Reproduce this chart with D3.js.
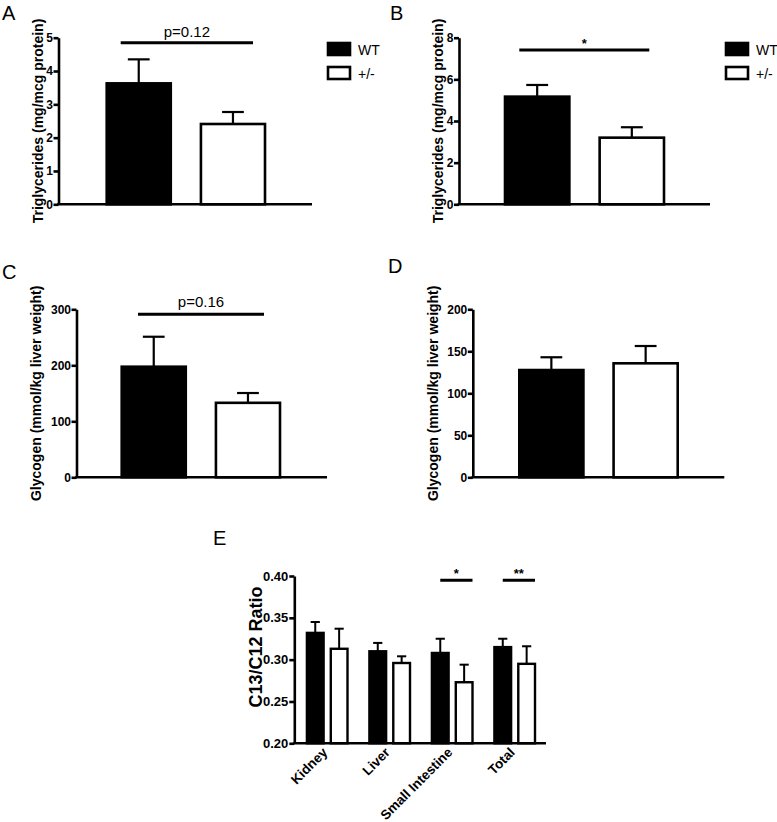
<!DOCTYPE html>
<html>
<head>
<meta charset="utf-8">
<script src="https://cdn.jsdelivr.net/npm/d3@7"></script>
<style>
  body { margin: 0; background: #fff; }
  svg { display: block; font-family: Arial, "Liberation Sans", Helvetica, sans-serif; }
  .tick text { font-weight: bold; }
</style>
</head>
<body>
<svg id="chart" width="777" height="822"></svg>
<script>
// genotypes
const groups = ["WT", "+/-"];

// A, B: triglycerides (mean, SEM)
const trigA = [3.63, 2.41];
const trigAErr = [0.72, 0.36];
const trigB = [5.17, 3.20];
const trigBErr = [0.56, 0.50];

// C, D: glycogen
const glyC = [197.5, 133];
const glyCErr = [53.5, 17.5];
const glyD = [127.7, 135.7];
const glyDErr = [15.2, 20.6];

// E: C13/C12 ratio per tissue
const tissues = ["Kidney", "Liver", "Small Intestine", "Total"];
const wtE = [0.332, 0.310, 0.308, 0.315];
const wtEErr = [0.013, 0.010, 0.017, 0.010];
const hetE = [0.313, 0.296, 0.273, 0.295];
const hetEErr = [0.024, 0.008, 0.021, 0.021];

const fills = {"WT": "#000", "+/-": "#fff"};

const svg = d3.select("#chart");

function letter(t, x, y) {
    svg.append("text").attr("x", x).attr("y", y)
        .style("font-size", "20px").text(t);
}

// one two-bar panel (A-D)
function drawPanel(p) {
    const g = svg.append("g");
    const y = d3.scaleLinear().domain(p.domain).range([p.yBot, p.yTop]);
    const x = d3.scaleBand().domain(groups)
        .range([p.bx0, p.bx1]).paddingInner(0.32);

    const rows = groups.map((k, i) => ({k: k, v: p.values[i], e: p.errors[i]}));

    // error bars first (upper only)
    const cap = x.bandwidth() * 0.34;
    rows.forEach(function(d) {
        const cx = x(d.k) + x.bandwidth() / 2;
        g.append("line").attr("x1", cx).attr("x2", cx)
            .attr("y1", y(d.v)).attr("y2", y(d.v + d.e))
            .attr("stroke", "#000").attr("stroke-width", 2.2);
        g.append("line").attr("x1", cx - cap / 2).attr("x2", cx + cap / 2)
            .attr("y1", y(d.v + d.e)).attr("y2", y(d.v + d.e))
            .attr("stroke", "#000").attr("stroke-width", 2.2);
    });

    g.selectAll("rect.bar").data(rows).enter().append("rect")
        .attr("class", "bar")
        .attr("x", d => x(d.k))
        .attr("y", d => y(d.v))
        .attr("width", x.bandwidth())
        .attr("height", d => y(0) - y(d.v))
        .attr("fill", d => fills[d.k])
        .attr("stroke", "#000").attr("stroke-width", 2.6);

    const yAxis = d3.axisLeft(y).tickValues(p.ticks).tickFormat(d3.format("d"))
        .tickSize(5).tickPadding(0.5).tickSizeOuter(0);
    const ga = g.append("g").attr("transform", "translate(" + p.x0 + ",0)").call(yAxis);
    ga.selectAll("path, line").attr("stroke-width", 2.6);
    ga.selectAll("text").style("font-size", "12px");

    g.append("line").attr("x1", p.x0 - 1.3).attr("x2", p.x1)
        .attr("y1", p.yBot).attr("y2", p.yBot)
        .attr("stroke", "#000").attr("stroke-width", 2.6);

    g.append("text")
        .attr("transform", "translate(" + p.labelX + "," + ((p.yTop + p.yBot) / 2) + ") rotate(-90)")
        .attr("text-anchor", "middle")
        .style("font-size", "14px").style("font-weight", "bold")
        .text(p.label);

    if (p.sig) {
        g.append("line").attr("x1", p.sig.x1).attr("x2", p.sig.x2)
            .attr("y1", p.sig.y).attr("y2", p.sig.y)
            .attr("stroke", "#000").attr("stroke-width", 3);
        g.append("text").attr("x", (p.sig.x1 + p.sig.x2) / 2).attr("y", p.sig.ty)
            .attr("text-anchor", "middle")
            .style("font-size", p.sig.size).style("font-weight", p.sig.bold ? "bold" : "normal")
            .text(p.sig.text);
    }

    if (p.legendX) {
        groups.forEach(function(k, i) {
            g.append("rect").attr("x", p.legendX).attr("y", 43 + i * 24)
                .attr("width", 22).attr("height", 12)
                .attr("fill", fills[k]).attr("stroke", "#000").attr("stroke-width", 2.6);
            g.append("text").attr("x", p.legendX + 30).attr("y", 55 + i * 24)
                .style("font-size", "14px").text(k);
        });
    }
}

letter("A", 2, 20);
drawPanel({
    values: trigA, errors: trigAErr, domain: [0, 5], ticks: [0, 1, 2, 3, 4, 5],
    x0: 58.5, x1: 312, bx0: 106.7, bx1: 265, yTop: 37.7, yBot: 204.3, labelX: 43,
    label: "Triglycerides (mg/mcg protein)",
    sig: {x1: 120.7, x2: 253, y: 42.7, ty: 37, text: "p=0.12", size: "15px"},
    legendX: 328
});

letter("B", 390, 20);
drawPanel({
    values: trigB, errors: trigBErr, domain: [0, 8], ticks: [0, 2, 4, 6, 8],
    x0: 459, x1: 710, bx0: 505, bx1: 664, yTop: 37.7, yBot: 204.3, labelX: 443,
    label: "Triglycerides (mg/mcg protein)",
    sig: {x1: 519.3, x2: 649.3, y: 50, ty: 48, text: "*", size: "13px", bold: true},
    legendX: 726
});

letter("C", 2, 279);
drawPanel({
    values: glyC, errors: glyCErr, domain: [0, 300], ticks: [0, 100, 200, 300],
    x0: 76.5, x1: 327, bx0: 121.7, bx1: 280, yTop: 309.3, yBot: 477.3, labelX: 41,
    label: "Glycogen (mmol/kg liver weight)",
    sig: {x1: 138, x2: 264, y: 314.3, ty: 307, text: "p=0.16", size: "15px"}
});

letter("D", 388, 273);
drawPanel({
    values: glyD, errors: glyDErr, domain: [0, 200], ticks: [0, 50, 100, 150, 200],
    x0: 472.8, x1: 724.3, bx0: 519.3, bx1: 677.7, yTop: 309.3, yBot: 477.3, labelX: 438,
    label: "Glycogen (mmol/kg liver weight)"
});

// panel E: grouped bars
letter("E", 213, 545);
(function() {
    const x0 = 294.3, x1 = 546, yTop = 576, yBot = 743.3;
    const g = svg.append("g");
    const y = d3.scaleLinear().domain([0.20, 0.40]).range([yBot, yTop]);
    const xo = d3.scaleBand().domain(tissues).range([296, 546]);
    const xi = d3.scaleBand().domain(groups).range([10.9, 51.5]).paddingInner(0.3);

    const rows = [];
    tissues.forEach(function(t, i) {
        rows.push({t: t, k: "WT", v: wtE[i], e: wtEErr[i]});
        rows.push({t: t, k: "+/-", v: hetE[i], e: hetEErr[i]});
    });

    const cap = xi.bandwidth() * 0.55;
    rows.forEach(function(d) {
        const cx = xo(d.t) + xi(d.k) + xi.bandwidth() / 2;
        g.append("line").attr("x1", cx).attr("x2", cx)
            .attr("y1", y(d.v)).attr("y2", y(d.v + d.e))
            .attr("stroke", "#000").attr("stroke-width", 2);
        g.append("line").attr("x1", cx - cap / 2).attr("x2", cx + cap / 2)
            .attr("y1", y(d.v + d.e)).attr("y2", y(d.v + d.e))
            .attr("stroke", "#000").attr("stroke-width", 2);
    });

    g.selectAll("rect.bar").data(rows).enter().append("rect")
        .attr("class", "bar")
        .attr("x", d => xo(d.t) + xi(d.k))
        .attr("y", d => y(d.v))
        .attr("width", xi.bandwidth())
        .attr("height", d => yBot - y(d.v))
        .attr("fill", d => fills[d.k])
        .attr("stroke", "#000").attr("stroke-width", 2.4);

    const yAxis = d3.axisLeft(y).tickValues([0.20, 0.25, 0.30, 0.35, 0.40])
        .tickFormat(d3.format(".2f")).tickSize(5).tickPadding(1).tickSizeOuter(0);
    const ga = g.append("g").attr("transform", "translate(" + x0 + ",0)").call(yAxis);
    ga.selectAll("path, line").attr("stroke-width", 2.6);
    ga.selectAll("text").style("font-size", "13px");

    const xAxis = d3.axisBottom(xo).tickSize(0).tickPadding(0).tickSizeOuter(0);
    const gx = g.append("g").attr("transform", "translate(0," + yBot + ")").call(xAxis);
    gx.select(".domain").remove();
    gx.selectAll("text")
        .attr("text-anchor", "end")
        .attr("dy", null).attr("y", 0)
        .attr("transform", "translate(1,10) rotate(-45)")
        .style("font-size", "13.5px");

    g.append("line").attr("x1", x0 - 1.3).attr("x2", x1)
        .attr("y1", yBot).attr("y2", yBot)
        .attr("stroke", "#000").attr("stroke-width", 2.6);

    g.append("text")
        .attr("transform", "translate(262,647) rotate(-90)")
        .attr("text-anchor", "middle")
        .style("font-size", "18px").style("font-weight", "bold")
        .text("C13/C12 Ratio");

    // significance marks
    [{t: "Small Intestine", s: "*"}, {t: "Total", s: "**"}].forEach(function(m) {
        const a = xo(m.t) + xi("WT") + xi.bandwidth() / 2;
        const b = xo(m.t) + xi("+/-") + xi.bandwidth();
        g.append("line").attr("x1", a).attr("x2", b)
            .attr("y1", 580.3).attr("y2", 580.3)
            .attr("stroke", "#000").attr("stroke-width", 3);
        g.append("text").attr("x", (a + b) / 2).attr("y", 578)
            .attr("text-anchor", "middle")
            .style("font-size", "13px").style("font-weight", "bold")
            .text(m.s);
    });
})();
</script>
</body>
</html>
